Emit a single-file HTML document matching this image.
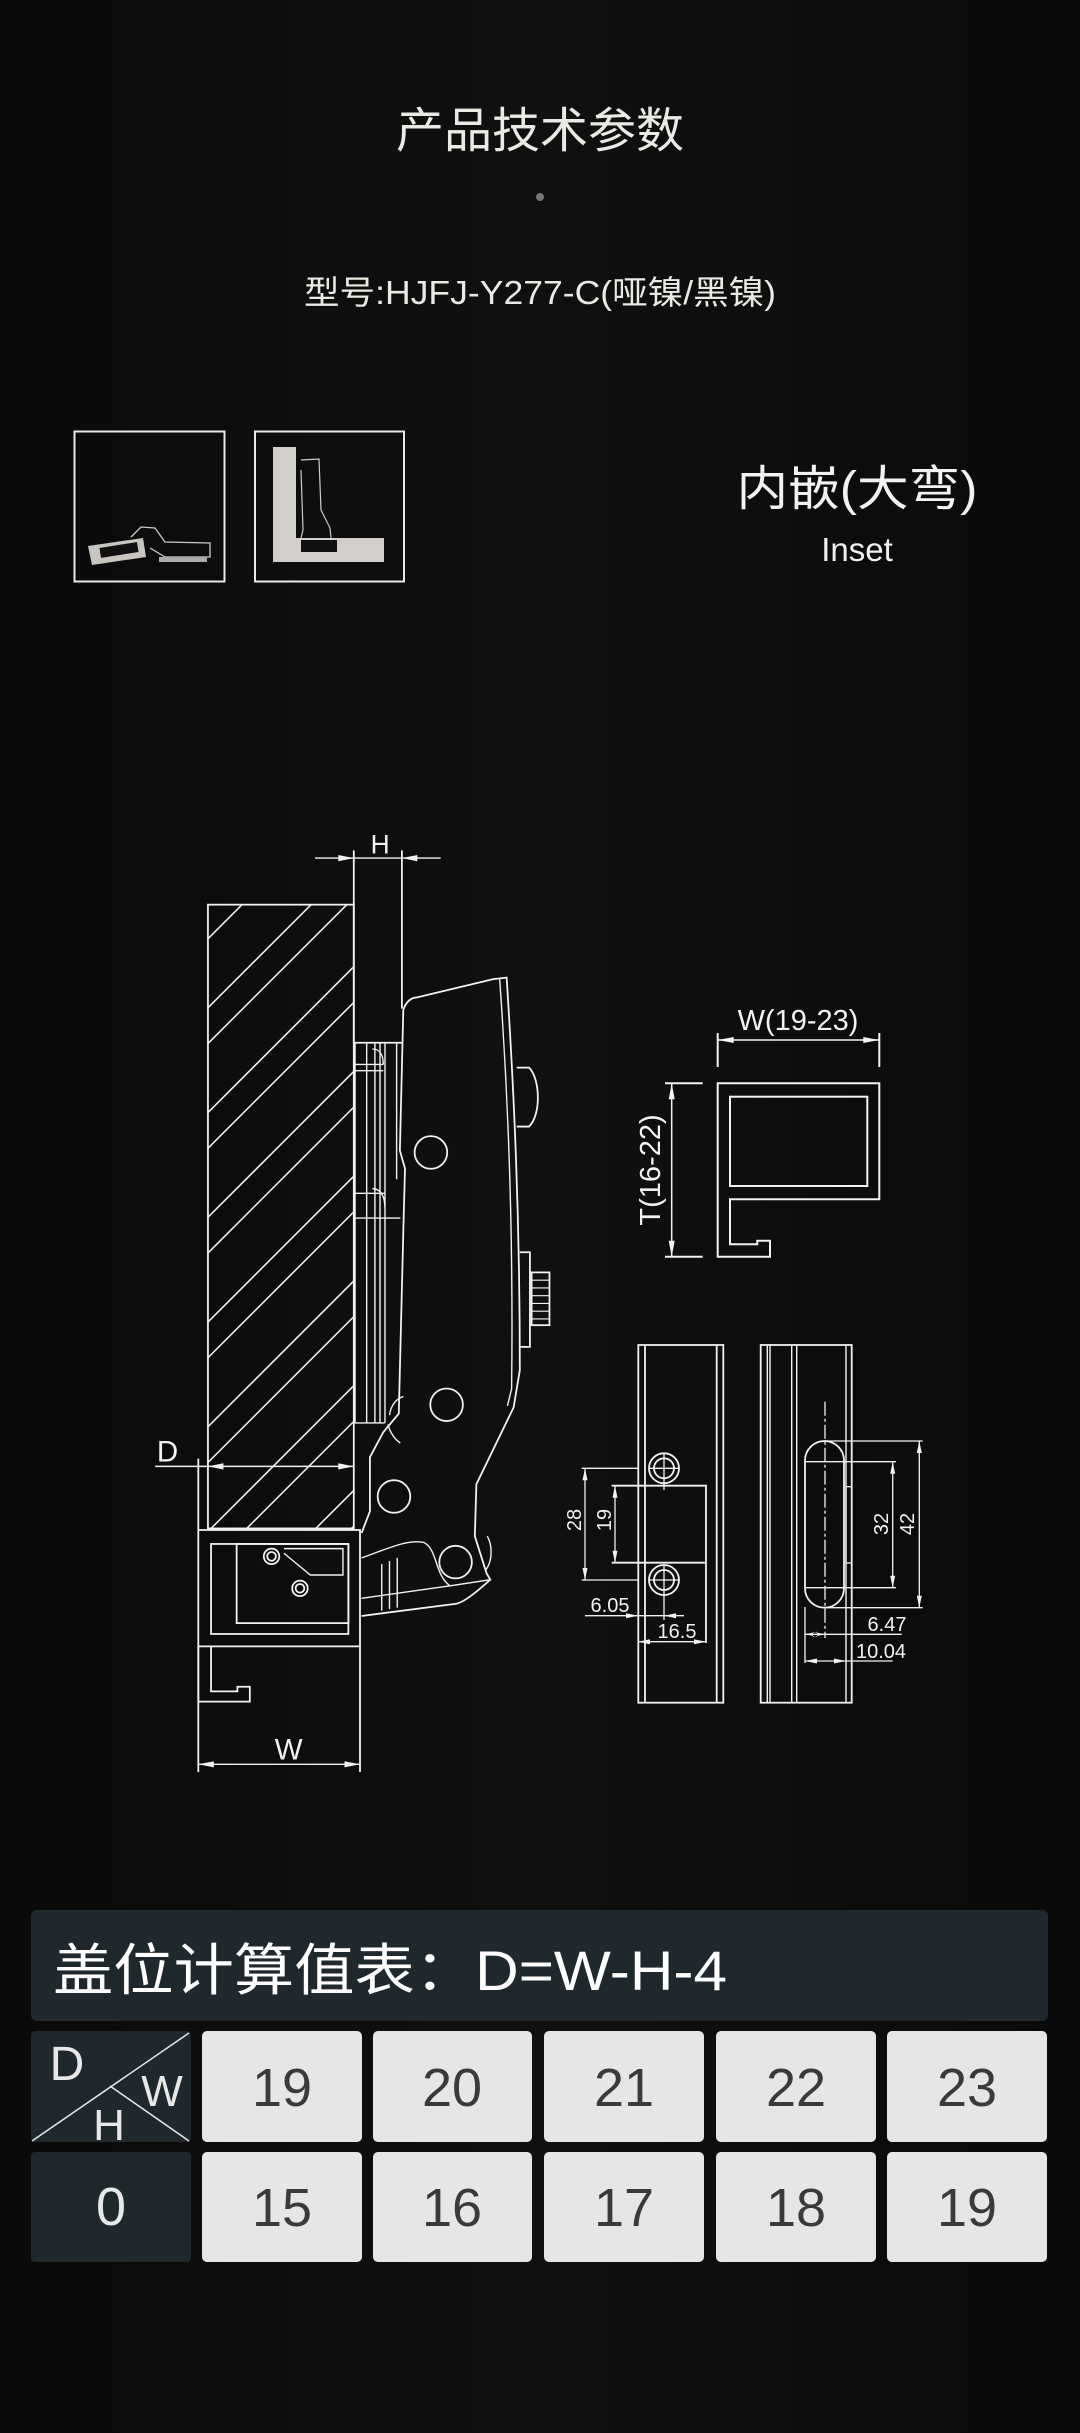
<!DOCTYPE html>
<html><head><meta charset="utf-8">
<style>
html,body{margin:0;padding:0;background:#0b0b0b;}
body{width:1080px;height:2433px;overflow:hidden;}
svg{display:block;}
text{font-family:"Liberation Sans","Noto Sans CJK SC",sans-serif;}
</style></head>
<body>
<svg width="1080" height="2433" viewBox="0 0 1080 2433" xmlns="http://www.w3.org/2000/svg">
<defs>
<linearGradient id="bg" x1="0" y1="0" x2="1" y2="0">
<stop offset="0" stop-color="#0a0a0a"/><stop offset="0.5" stop-color="#101010"/><stop offset="1" stop-color="#0a0a0a"/>
</linearGradient>
<clipPath id="door"><rect x="134" y="583" width="94" height="402"/></clipPath>
</defs>
<rect width="1080" height="2433" fill="url(#bg)"/>

<text x="540" y="147" font-size="48" fill="#ebe9e3" text-anchor="middle" font-family="Noto Sans CJK SC, sans-serif">产品技术参数</text>
<circle cx="540" cy="197" r="4" fill="#777"/>
<text x="540" y="304" font-size="33" fill="#ebe9e3" text-anchor="middle" textLength="472" lengthAdjust="spacingAndGlyphs">型号:HJFJ-Y277-C(哑镍/黑镍)</text>

<!-- thumbnails -->
<rect x="74.5" y="431.5" width="150" height="150" fill="none" stroke="#e8e8e8" stroke-width="2"/>
<rect x="255" y="431.5" width="149" height="150" fill="none" stroke="#e8e8e8" stroke-width="2"/>
<polygon points="88,546 143,538 146,557 92,565" fill="#c9c6c2"/>
<rect x="100" y="545" width="38" height="10" fill="#111" transform="rotate(-9 119 550)"/>
<path d="M131,537 L141,527 L155,528 L165,542 L210,543 L210,557 L165,557 L150,548" fill="none" stroke="#ccc" stroke-width="1.3"/>
<rect x="159" y="557" width="48" height="5" fill="#aaa"/>
<rect x="273" y="447" width="23" height="115" fill="#d2cfcb"/>
<rect x="296" y="538" width="88" height="24" fill="#d2cfcb"/>
<rect x="301" y="540" width="36" height="12" fill="#111"/>
<path d="M301,460 L319,459 L321,510 L330,528 L331,538 M301,470 L303,530 L301,538" fill="none" stroke="#ccc" stroke-width="1.2"/>

<text x="857" y="505" font-size="48" fill="#f2f2f2" text-anchor="middle" font-family="Noto Sans CJK SC, sans-serif" textLength="241" lengthAdjust="spacingAndGlyphs">内嵌(大弯)</text>
<text x="857" y="561" font-size="33" fill="#f0f0f0" text-anchor="middle">Inset</text>

<!-- main drawing in display coords -->
<g transform="scale(1.55172)" fill="none" stroke="#f2f2f2" stroke-width="1.15">
  <rect x="134" y="583" width="94" height="402"/>
  <g clip-path="url(#door)" stroke-width="1">
    <line x1="134" y1="582" x2="228" y2="488"/>
    <line x1="134" y1="605" x2="228" y2="511"/>
    <line x1="134" y1="649.5" x2="228" y2="555.5"/>
    <line x1="134" y1="672.5" x2="228" y2="578.5"/>
    <line x1="134" y1="717" x2="228" y2="623"/>
    <line x1="134" y1="740" x2="228" y2="646"/>
    <line x1="134" y1="784.5" x2="228" y2="690.5"/>
    <line x1="134" y1="807.5" x2="228" y2="713.5"/>
    <line x1="134" y1="852" x2="228" y2="758"/>
    <line x1="134" y1="875" x2="228" y2="781"/>
    <line x1="134" y1="919.5" x2="228" y2="825.5"/>
    <line x1="134" y1="942.5" x2="228" y2="848.5"/>
    <line x1="134" y1="987" x2="228" y2="893"/>
    <line x1="134" y1="1010" x2="228" y2="916"/>
    <line x1="134" y1="1054.5" x2="228" y2="960.5"/>
    <line x1="134" y1="1077.5" x2="228" y2="983.5"/>
    <line x1="134" y1="1122" x2="228" y2="1028"/>
    <line x1="134" y1="1145" x2="228" y2="1051"/>
  </g>
  <line x1="228" y1="548" x2="228" y2="672"/>
  <line x1="259" y1="548" x2="259" y2="650"/>
  <line x1="228" y1="672" x2="259" y2="672"/>
  <line x1="203" y1="553" x2="284" y2="553" stroke-width="0.9"/>
  <path d="M228,553 l-10,-2 v4 z M259,553 l10,-2 v4 z" fill="#f2f2f2" stroke="none"/>
  <text x="245" y="550" font-size="17" fill="#f2f2f2" stroke="none" text-anchor="middle">H</text>
  <path d="M228.8,672 V917 M236.3,672 V917 M241.6,672 V917 M244.9,672 V917 M248.1,672 V917 M255.6,672 V760 M228,686 H247 M228,690 H247 M228,769 H248 M228,785 H258 M228,917 H248 M240,676 C246,676 247,682 247,686 M240,766 C246,766 248,772 248,778" stroke-width="0.9"/>
  <path d="M259.9,650.7 C262,645 265,643 268.5,642.8 L317.9,631 L326.5,630 C331,700 335,780 335,883 L331,907 L307,956.5 L306,990 L313.6,1014 L316,1018 C305,1028 298,1033 294,1033.5 L233,1041.4"/>
  <path d="M259.9,650.7 L257.7,741.5 L261,753 L260,790 L257,911 L247,923 L238.4,939 L238.4,974 L233,988"/>
  <path d="M322,631 C327,700 331,790 329.7,895 L327,906" stroke-width="0.9"/>
  <path d="M251,912 C252,905 256,901 260,900 M250,918 C252,925 255,928 258,930" stroke-width="0.9"/>
  <path d="M233,1004 C250,998 262,992 273,994 C282,998 280,1015 290,1022 L316,1018 M233,1030 L290,1022 M246,1008 V1038 M251,1006 V1037 M256,1004 V1036 M313,1012 C318,1005 317,995 314,990" stroke-width="0.9"/>
  <circle cx="277.7" cy="742.7" r="10.5"/>
  <circle cx="287.8" cy="905.3" r="10.5"/>
  <circle cx="253.9" cy="964.4" r="10.5"/>
  <circle cx="293.6" cy="1006.7" r="10.5"/>
  <path d="M333,688 H341 C348,695 349,718 341,726 H333"/>
  <path d="M335,807 H341.5 V868 H335"/>
  <rect x="342.6" y="820" width="11.5" height="34"/>
  <path d="M342.6,825 H354 M342.6,830 H354 M342.6,835 H354 M342.6,840 H354 M342.6,845 H354 M342.6,850 H354" stroke-width="0.7"/>
  <rect x="127.8" y="986" width="104.2" height="75"/>
  <rect x="136" y="995" width="88.5" height="58"/>
  <rect x="152.5" y="995" width="72" height="51"/>
  <circle cx="175" cy="1003" r="5"/><circle cx="175" cy="1003" r="2.8"/>
  <circle cx="193.3" cy="1023.6" r="5"/><circle cx="193.3" cy="1023.6" r="2.8"/>
  <path d="M183,998 H221 V1015 H200 L183,1001" stroke-width="0.9"/>
  <path d="M127.8,1061 V1096.6 H161 V1087 H153 V1090 H136 V1061"/>
  <line x1="127.8" y1="1061" x2="127.8" y2="1142"/>
  <line x1="232" y1="1061" x2="232" y2="1142"/>
  <line x1="127.8" y1="1137" x2="232" y2="1137" stroke-width="0.9"/>
  <path d="M127.8,1137 l10,-2 v4 z M232,1137 l-10,-2 v4 z" fill="#f2f2f2" stroke="none"/>
  <text x="186" y="1134" font-size="19" fill="#f2f2f2" stroke="none" text-anchor="middle">W</text>
  <line x1="100" y1="945" x2="228" y2="945" stroke-width="0.9"/>
  <line x1="127.8" y1="940" x2="127.8" y2="986"/>
  <path d="M134,945 l10,-2 v4 z M228,945 l-10,-2 v4 z" fill="#f2f2f2" stroke="none"/>
  <text x="108" y="942" font-size="19" fill="#f2f2f2" stroke="none" text-anchor="middle">D</text>
</g>

<g fill="none" stroke="#f2f2f2" stroke-width="2">
  <line x1="717.7" y1="1033" x2="717.7" y2="1067"/>
  <line x1="879.3" y1="1033" x2="879.3" y2="1067"/>
  <line x1="717.7" y1="1040" x2="879.3" y2="1040" stroke-width="1.5"/>
  <path d="M717.7,1040 l16,-3 v6 z M879.3,1040 l-16,-3 v6 z" fill="#f2f2f2" stroke="none"/>
  <text x="798" y="1030" font-size="29" fill="#f2f2f2" stroke="none" text-anchor="middle">W(19-23)</text>
  <path d="M717.7,1083.3 H879.3 V1199.3 H730 V1244.3 H757.3 V1240.7 H770 V1256.7 H717.7 Z"/>
  <rect x="730" y="1096.7" width="137.3" height="89.3"/>
  <line x1="671.7" y1="1083.3" x2="671.7" y2="1256.7" stroke-width="1.5"/>
  <line x1="665" y1="1083.3" x2="702.7" y2="1083.3"/>
  <line x1="665" y1="1256.7" x2="702.7" y2="1256.7"/>
  <path d="M671.7,1083.3 l-3,16 h6 z M671.7,1256.7 l-3,-16 h6 z" fill="#f2f2f2" stroke="none"/>
  <text transform="translate(660 1170) rotate(-90)" font-size="29" fill="#f2f2f2" stroke="none" text-anchor="middle">T(16-22)</text>
</g>

<g fill="none" stroke="#f2f2f2" stroke-width="1.8">
  <rect x="638.3" y="1345" width="85" height="357.7"/>
  <line x1="645" y1="1345" x2="645" y2="1702.7"/>
  <line x1="716.7" y1="1345" x2="716.7" y2="1702.7"/>
  <circle cx="664" cy="1468.3" r="15"/><circle cx="664" cy="1468.3" r="10"/>
  <circle cx="664" cy="1580" r="15"/><circle cx="664" cy="1580" r="10"/>
  <path d="M664,1453 V1490 M649,1468.3 H679 M664,1565 V1620 M649,1580 H679" stroke-width="1.3"/>
  <path d="M611.7,1485.7 H706 V1643 M611.7,1562.7 H706"/>
  <path d="M581.7,1468.3 H638 M581.7,1580 H638" stroke-width="1.3"/>
  <line x1="615" y1="1485.7" x2="615" y2="1562.7" stroke-width="1.3"/>
  <line x1="585" y1="1468.3" x2="585" y2="1580" stroke-width="1.3"/>
  <path d="M615,1485.7 l-2.5,12 h5 z M615,1562.7 l-2.5,-12 h5 z M585,1468.3 l-2.5,12 h5 z M585,1580 l-2.5,-12 h5 z" fill="#f2f2f2" stroke="none"/>
  <line x1="585" y1="1615.7" x2="684" y2="1615.7" stroke-width="1.3"/>
  <path d="M638,1615.7 l-12,-2.5 v5 z M664,1615.7 l12,-2.5 v5 z" fill="#f2f2f2" stroke="none"/>
  <line x1="638" y1="1641.7" x2="706" y2="1641.7" stroke-width="1.3"/>
  <path d="M638,1641.7 l12,-2.5 v5 z M706,1641.7 l-12,-2.5 v5 z" fill="#f2f2f2" stroke="none"/>
  <g fill="#f2f2f2" stroke="none" font-size="20">
    <text x="610" y="1612" text-anchor="middle">6.05</text>
    <text x="677" y="1638" text-anchor="middle">16.5</text>
    <text transform="translate(581 1520) rotate(-90)" text-anchor="middle">28</text>
    <text transform="translate(611 1520) rotate(-90)" text-anchor="middle">19</text>
  </g>

  <rect x="760.7" y="1345" width="91" height="357.7"/>
  <path d="M767.3,1345 V1702.7 M770,1345 V1702.7 M791.7,1345 V1702.7 M796.7,1345 V1702.7 M846,1345 V1702.7" stroke-width="1.4"/>
  <rect x="805" y="1441" width="39" height="166.7" rx="19.5"/>
  <rect x="846" y="1486.7" width="5.7" height="76.3" stroke-width="1.3"/>
  <line x1="825" y1="1401.7" x2="825" y2="1638" stroke-width="1.3" stroke-dasharray="14 3 3 3"/>
  <path d="M825,1441 H922.7 M825,1607.7 H922.7 M805,1461.7 H896 M805,1587.7 H896" stroke-width="1.3"/>
  <line x1="892.7" y1="1461.7" x2="892.7" y2="1587.7" stroke-width="1.3"/>
  <line x1="919.3" y1="1441" x2="919.3" y2="1607.7" stroke-width="1.3"/>
  <path d="M892.7,1461.7 l-2.5,12 h5 z M892.7,1587.7 l-2.5,-12 h5 z M919.3,1441 l-2.5,12 h5 z M919.3,1607.7 l-2.5,-12 h5 z" fill="#f2f2f2" stroke="none"/>
  <line x1="805" y1="1607" x2="805" y2="1663" stroke-width="1.3"/>
  <line x1="805" y1="1634.3" x2="901.7" y2="1634.3" stroke-width="1.3"/>
  <line x1="805" y1="1661" x2="892.7" y2="1661" stroke-width="1.3"/>
  <path d="M805,1634.3 l12,-2.5 v5 z M825,1634.3 l-12,-2.5 v5 z M805,1661 l12,-2.5 v5 z M846,1661 l-12,-2.5 v5 z" fill="#f2f2f2" stroke="none"/>
  <g fill="#f2f2f2" stroke="none" font-size="20">
    <text x="887" y="1631" text-anchor="middle">6.47</text>
    <text x="881" y="1658" text-anchor="middle">10.04</text>
    <text transform="translate(888 1524) rotate(-90)" text-anchor="middle">32</text>
    <text transform="translate(914 1524) rotate(-90)" text-anchor="middle">42</text>
  </g>
</g>

<rect x="31" y="1910" width="1017" height="111" rx="6" fill="#1f292d"/>
<text x="53" y="1990" font-size="56" fill="#ffffff" font-family="Noto Sans CJK SC, sans-serif" textLength="674" lengthAdjust="spacingAndGlyphs">盖位计算值表：D=W-H-4</text>

<rect x="31" y="2031" width="160" height="111" rx="4" fill="#1f292d"/>
<line x1="32" y1="2141" x2="189" y2="2033" stroke="#e8e8e8" stroke-width="1.5"/>
<line x1="110" y1="2086" x2="189" y2="2141" stroke="#e8e8e8" stroke-width="1.5"/>
<text x="67" y="2080" font-size="48" fill="#e8e8e8" text-anchor="middle">D</text>
<text x="162" y="2106" font-size="44" fill="#e8e8e8" text-anchor="middle">W</text>
<text x="109" y="2140" font-size="44" fill="#e8e8e8" text-anchor="middle">H</text>

<rect x="31" y="2152" width="160" height="110" rx="4" fill="#1f292d"/>
<text x="111" y="2225" font-size="54" fill="#e8e8e8" text-anchor="middle">0</text>

<g fill="#e6e6e6">
<rect x="202" y="2031" width="160" height="111" rx="5"/>
<rect x="373" y="2031" width="159" height="111" rx="5"/>
<rect x="544" y="2031" width="160" height="111" rx="5"/>
<rect x="716" y="2031" width="160" height="111" rx="5"/>
<rect x="887" y="2031" width="160" height="111" rx="5"/>
<rect x="202" y="2152" width="160" height="110" rx="5"/>
<rect x="373" y="2152" width="159" height="110" rx="5"/>
<rect x="544" y="2152" width="160" height="110" rx="5"/>
<rect x="716" y="2152" width="160" height="110" rx="5"/>
<rect x="887" y="2152" width="160" height="110" rx="5"/>
</g>
<g fill="#3a3a3a" font-size="54" text-anchor="middle">
<text x="282" y="2106">19</text><text x="452" y="2106">20</text><text x="624" y="2106">21</text><text x="796" y="2106">22</text><text x="967" y="2106">23</text>
<text x="282" y="2226">15</text><text x="452" y="2226">16</text><text x="624" y="2226">17</text><text x="796" y="2226">18</text><text x="967" y="2226">19</text>
</g>
</svg>
</body></html>
